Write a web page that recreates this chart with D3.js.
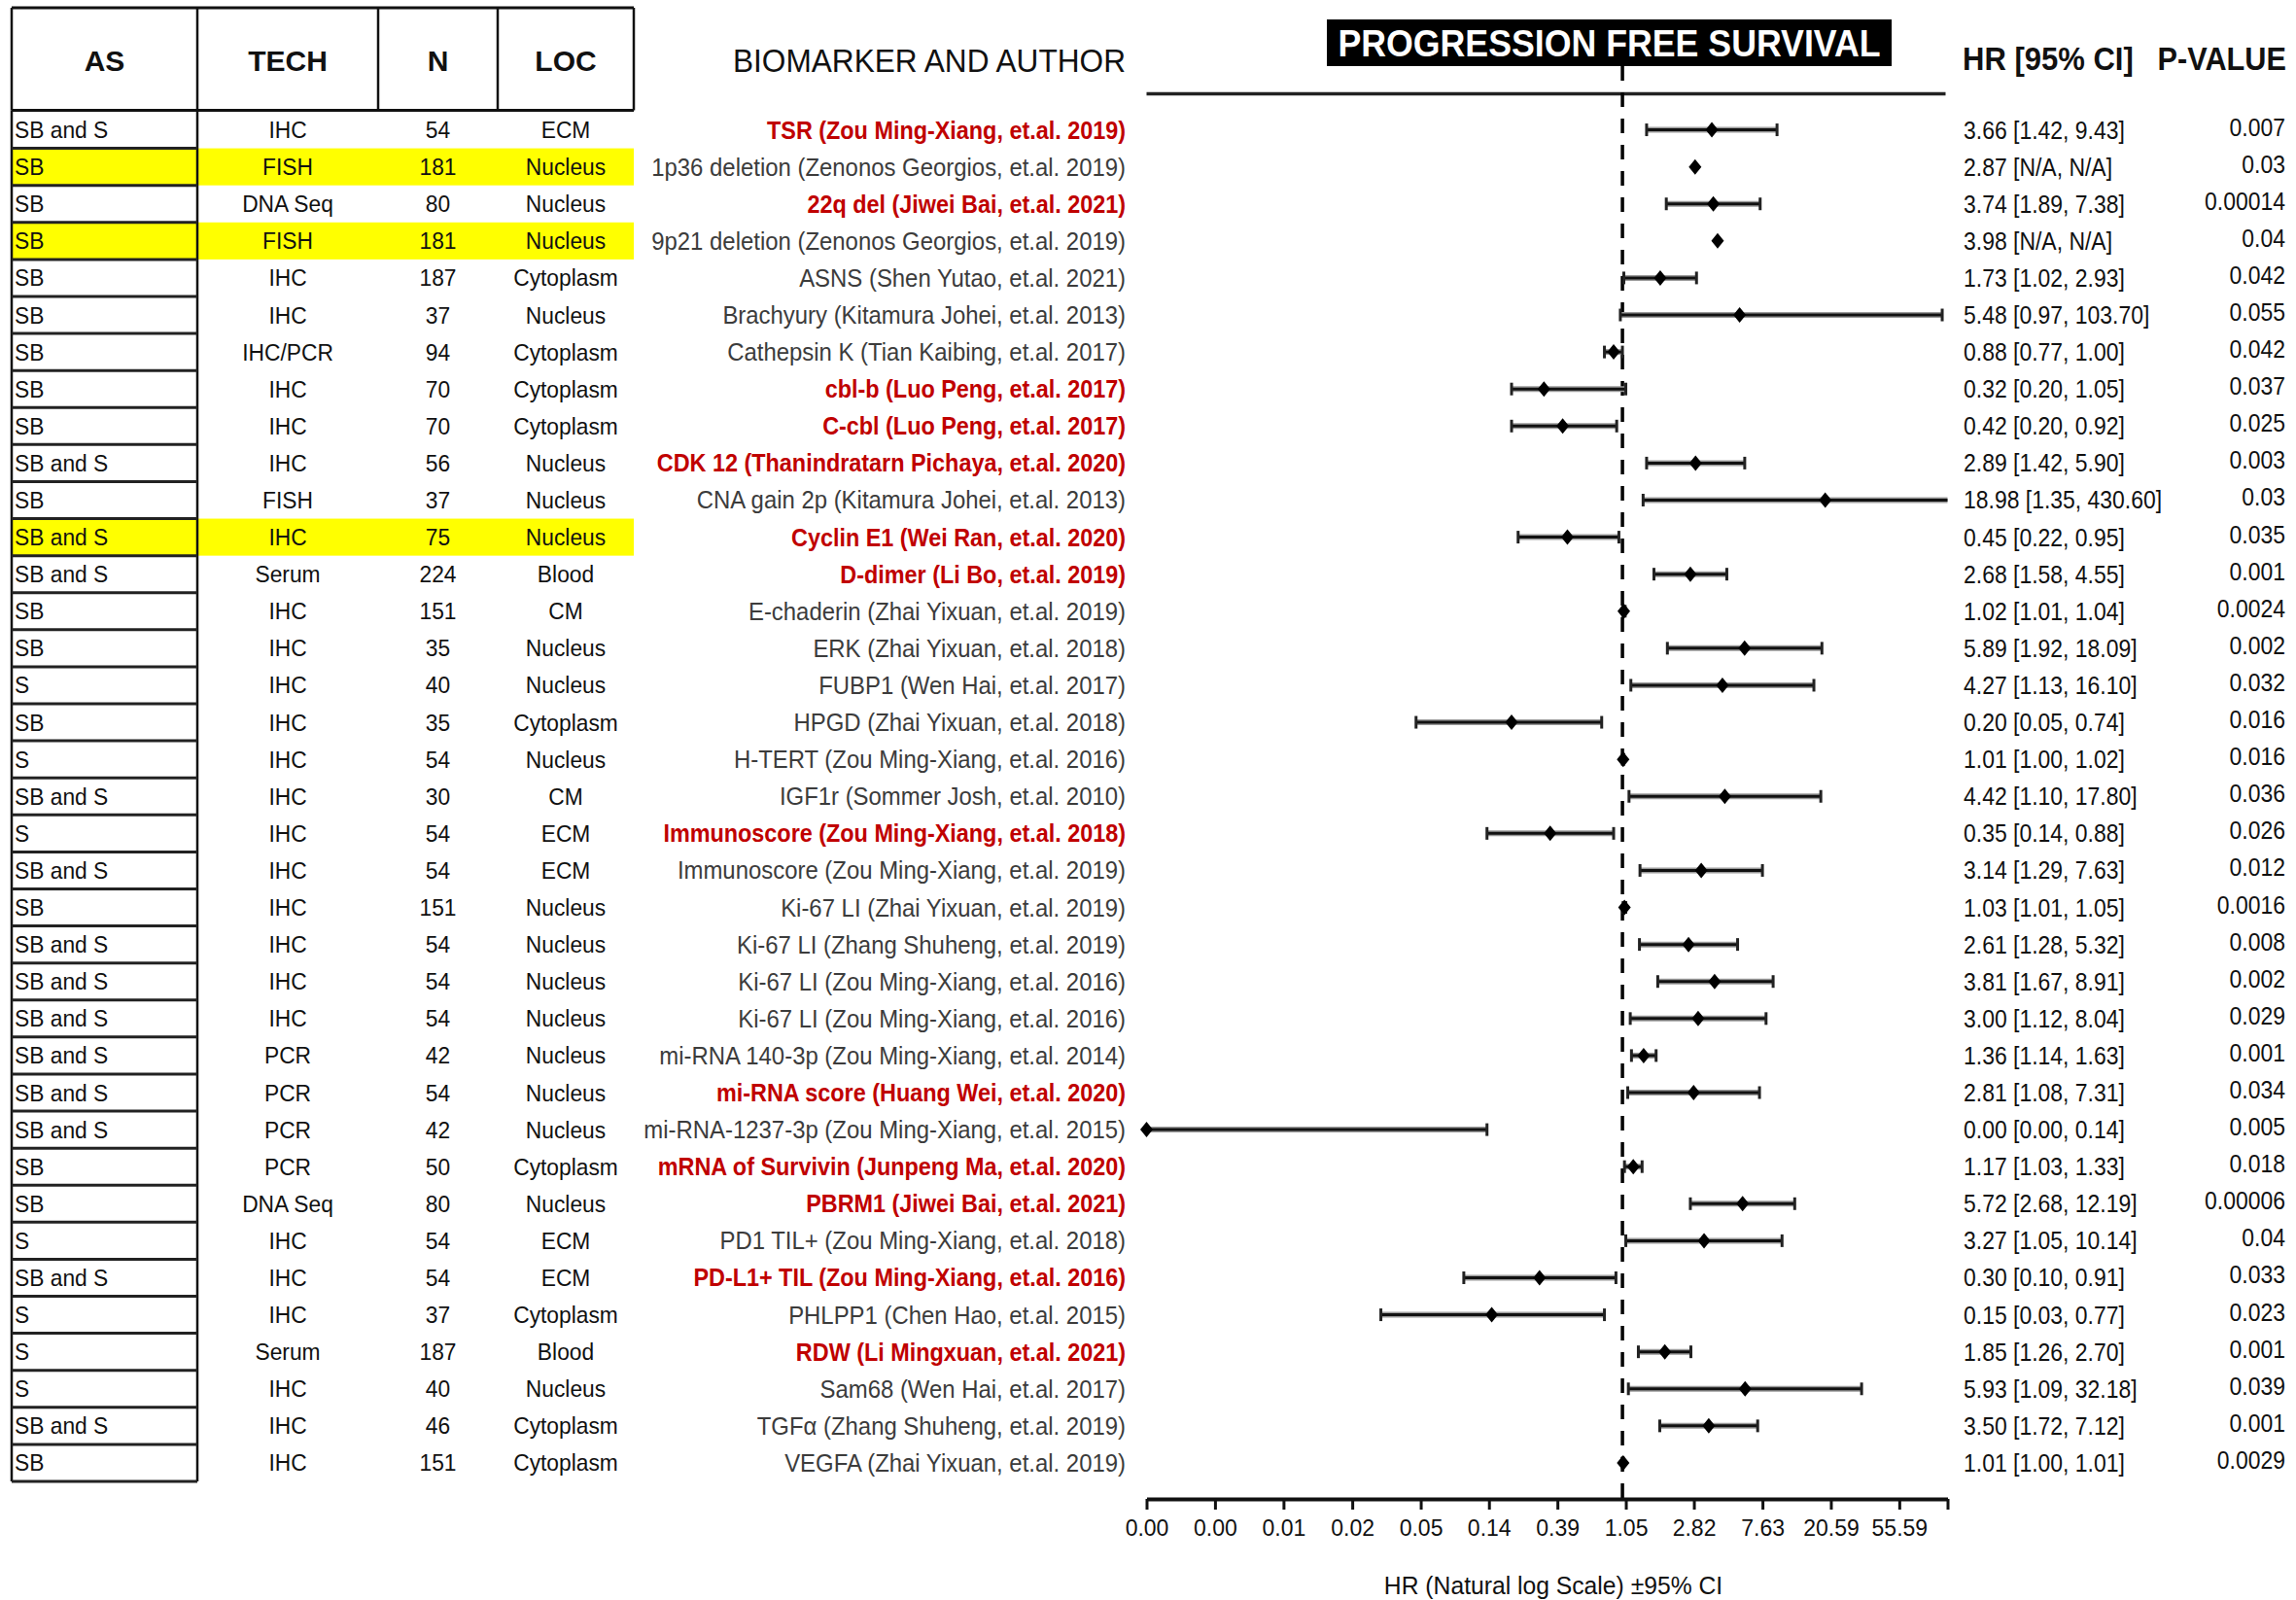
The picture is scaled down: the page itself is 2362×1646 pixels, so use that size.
<!DOCTYPE html>
<html>
<head>
<meta charset="utf-8">
<script src="https://cdn.jsdelivr.net/npm/d3@7"></script>
<style>
  html, body { margin: 0; padding: 0; background: #fff; }
  svg { display: block; }
</style>
</head>
<body>
<svg id="chart" width="2362" height="1646"></svg>
<script>
// ---------------- DATA ----------------
const asCol = ["SB and S","SB","SB","SB","SB","SB","SB","SB","SB","SB and S","SB","SB and S","SB and S","SB","SB","S","SB","S","SB and S","S","SB and S","SB","SB and S","SB and S","SB and S","SB and S","SB and S","SB and S","SB","SB","S","SB and S","S","S","S","SB and S","SB"];
const techCol = ["IHC","FISH","DNA Seq","FISH","IHC","IHC","IHC/PCR","IHC","IHC","IHC","FISH","IHC","Serum","IHC","IHC","IHC","IHC","IHC","IHC","IHC","IHC","IHC","IHC","IHC","IHC","PCR","PCR","PCR","PCR","DNA Seq","IHC","IHC","IHC","Serum","IHC","IHC","IHC"];
const nCol = [54,181,80,181,187,37,94,70,70,56,37,75,224,151,35,40,35,54,30,54,54,151,54,54,54,42,54,42,50,80,54,54,37,187,40,46,151];
const locCol = ["ECM","Nucleus","Nucleus","Nucleus","Cytoplasm","Nucleus","Cytoplasm","Cytoplasm","Cytoplasm","Nucleus","Nucleus","Nucleus","Blood","CM","Nucleus","Nucleus","Cytoplasm","Nucleus","CM","ECM","ECM","Nucleus","Nucleus","Nucleus","Nucleus","Nucleus","Nucleus","Nucleus","Cytoplasm","Nucleus","ECM","ECM","Cytoplasm","Blood","Nucleus","Cytoplasm","Cytoplasm"];
const biomarkers = [
  "TSR (Zou Ming-Xiang, et.al. 2019)",
  "1p36 deletion (Zenonos Georgios, et.al. 2019)",
  "22q del (Jiwei Bai, et.al. 2021)",
  "9p21 deletion (Zenonos Georgios, et.al. 2019)",
  "ASNS (Shen Yutao, et.al. 2021)",
  "Brachyury (Kitamura Johei, et.al. 2013)",
  "Cathepsin K (Tian Kaibing, et.al. 2017)",
  "cbl-b (Luo Peng, et.al. 2017)",
  "C-cbl (Luo Peng, et.al. 2017)",
  "CDK 12 (Thanindratarn Pichaya, et.al. 2020)",
  "CNA gain 2p (Kitamura Johei, et.al. 2013)",
  "Cyclin E1 (Wei Ran, et.al. 2020)",
  "D-dimer (Li Bo, et.al. 2019)",
  "E-chaderin (Zhai Yixuan, et.al. 2019)",
  "ERK (Zhai Yixuan, et.al. 2018)",
  "FUBP1 (Wen Hai, et.al. 2017)",
  "HPGD (Zhai Yixuan, et.al. 2018)",
  "H-TERT (Zou Ming-Xiang, et.al. 2016)",
  "IGF1r (Sommer Josh, et.al. 2010)",
  "Immunoscore (Zou Ming-Xiang, et.al. 2018)",
  "Immunoscore (Zou Ming-Xiang, et.al. 2019)",
  "Ki-67 LI (Zhai Yixuan, et.al. 2019)",
  "Ki-67 LI (Zhang Shuheng, et.al. 2019)",
  "Ki-67 LI (Zou Ming-Xiang, et.al. 2016)",
  "Ki-67 LI (Zou Ming-Xiang, et.al. 2016)",
  "mi-RNA 140-3p (Zou Ming-Xiang, et.al. 2014)",
  "mi-RNA score (Huang Wei, et.al. 2020)",
  "mi-RNA-1237-3p (Zou Ming-Xiang, et.al. 2015)",
  "mRNA of Survivin (Junpeng Ma, et.al. 2020)",
  "PBRM1 (Jiwei Bai, et.al. 2021)",
  "PD1 TIL+ (Zou Ming-Xiang, et.al. 2018)",
  "PD-L1+ TIL (Zou Ming-Xiang, et.al. 2016)",
  "PHLPP1 (Chen Hao, et.al. 2015)",
  "RDW (Li Mingxuan, et.al. 2021)",
  "Sam68 (Wen Hai, et.al. 2017)",
  "TGFα (Zhang Shuheng, et.al. 2019)",
  "VEGFA (Zhai Yixuan, et.al. 2019)"
];
// 1 = highlighted (red bold) biomarker label
const redLabel = [1,0,1,0,0,0,0,1,1,1,0,1,1,0,0,0,0,0,0,1,0,0,0,0,0,0,1,0,1,1,0,1,0,1,0,0,0];
// 1 = yellow highlighted table row
const yellowRow = [0,1,0,1,0,0,0,0,0,0,0,1,0,0,0,0,0,0,0,0,0,0,0,0,0,0,0,0,0,0,0,0,0,0,0,0,0];
const hrVals = [3.66,2.87,3.74,3.98,1.73,5.48,0.88,0.32,0.42,2.89,18.98,0.45,2.68,1.02,5.89,4.27,0.20,1.01,4.42,0.35,3.14,1.03,2.61,3.81,3.00,1.36,2.81,0.001,1.17,5.72,3.27,0.30,0.15,1.85,5.93,3.50,1.01];
const ciLow  = [1.42,null,1.89,null,1.02,0.97,0.77,0.20,0.20,1.42,1.35,0.22,1.58,1.01,1.92,1.13,0.05,1.00,1.10,0.14,1.29,1.01,1.28,1.67,1.12,1.14,1.08,0.0005,1.03,2.68,1.05,0.10,0.03,1.26,1.09,1.72,1.00];
const ciHigh = [9.43,null,7.38,null,2.93,103.70,1.00,1.05,0.92,5.90,430.60,0.95,4.55,1.04,18.09,16.10,0.74,1.02,17.80,0.88,7.63,1.05,5.32,8.91,8.04,1.63,7.31,0.14,1.33,12.19,10.14,0.91,0.77,2.70,32.18,7.12,1.01];
const pValues = ["0.007","0.03","0.00014","0.04","0.042","0.055","0.042","0.037","0.025","0.003","0.03","0.035","0.001","0.0024","0.002","0.032","0.016","0.016","0.036","0.026","0.012","0.0016","0.008","0.002","0.029","0.001","0.034","0.005","0.018","0.00006","0.04","0.033","0.023","0.001","0.039","0.001","0.0029"];
const tickValues = [0.001,0.0027,0.0073,0.0198,0.0535,0.144,0.389,1.05,2.82,7.63,20.59,55.59];
const tickLabels = ["0.00","0.00","0.01","0.02","0.05","0.14","0.39","1.05","2.82","7.63","20.59","55.59"];
const tableHeaders = ["AS","TECH","N","LOC"];
const chartTitle = "PROGRESSION FREE SURVIVAL";
const axisTitle = "HR (Natural log Scale) ±95% CI";

// ---------------- LAYOUT ----------------
const FONT = "'Liberation Sans', Arial, Helvetica, sans-serif";
const svg = d3.select("#chart");
const n = biomarkers.length;
const rows = d3.range(n);

const y = d3.scaleBand().domain(rows).range([114.5, 1524]).padding(0);
const yc = i => y(i) + y.bandwidth() / 2;

const colEdges = [12, 203, 389, 512, 652];
const headerTop = 8, headerBottom = 113.5;

const x = d3.scaleLog().domain([0.001, 112]).range([1179.5, 2003.5]).clamp(true);
const fmt = d3.format(".2f");

function txt(g, str, xx, yy, o = {}) {
  const sx = o.sx || 1;
  return g.append("text")
    .attr("transform", `translate(${xx},${yy}) scale(${sx},1)`)
    .attr("text-anchor", o.anchor || "start")
    .attr("font-family", o.family || FONT)
    .attr("font-size", o.size || 23)
    .attr("font-weight", o.weight || "normal")
    .attr("fill", o.fill || "#111")
    .text(str);
}

// ---------------- TABLE ----------------
const tbl = svg.append("g");
// yellow highlighted rows
tbl.selectAll("rect.hl").data(rows.filter(i => yellowRow[i]))
  .join("rect").attr("class", "hl")
  .attr("x", colEdges[0]).attr("width", colEdges[4] - colEdges[0])
  .attr("y", i => y(i)).attr("height", y.bandwidth())
  .attr("fill", "#ffff00");

// header box
[headerTop, headerBottom].forEach(yy => {
  tbl.append("line").attr("x1", colEdges[0]).attr("x2", colEdges[4])
    .attr("y1", yy).attr("y2", yy).attr("stroke", "#111").attr("stroke-width", 3);
});
colEdges.forEach(xx => {
  tbl.append("line").attr("x1", xx).attr("x2", xx)
    .attr("y1", headerTop).attr("y2", headerBottom).attr("stroke", "#111").attr("stroke-width", 2.5);
});
// body verticals for first column
[colEdges[0], colEdges[1]].forEach(xx => {
  tbl.append("line").attr("x1", xx).attr("x2", xx)
    .attr("y1", headerBottom).attr("y2", y.range()[1]).attr("stroke", "#111").attr("stroke-width", 2.5);
});
// row separators for first column
tbl.selectAll("line.sep").data(d3.range(1, n + 1)).join("line").attr("class", "sep")
  .attr("x1", colEdges[0]).attr("x2", colEdges[1])
  .attr("y1", i => y.range()[0] + i * y.step()).attr("y2", i => y.range()[0] + i * y.step())
  .attr("stroke", "#222").attr("stroke-width", 3);

// header text
tableHeaders.forEach((h, k) => {
  txt(tbl, h, (colEdges[k] + colEdges[k + 1]) / 2, 73, {anchor: "middle", size: 30, weight: "bold"});
});

// body text
rows.forEach(i => {
  const yy = yc(i) + 8.5;
  txt(tbl, asCol[i], colEdges[0] + 3, yy, {size: 24, sx: 0.95});
  txt(tbl, techCol[i], (colEdges[1] + colEdges[2]) / 2, yy, {anchor: "middle", size: 24, sx: 0.95});
  txt(tbl, String(nCol[i]), (colEdges[2] + colEdges[3]) / 2, yy, {anchor: "middle", size: 24, sx: 0.95});
  txt(tbl, locCol[i], (colEdges[3] + colEdges[4]) / 2, yy, {anchor: "middle", size: 24, sx: 0.95});
});

// ---------------- BIOMARKER LABELS ----------------
const lab = svg.append("g");
txt(lab, "BIOMARKER AND AUTHOR", 1158, 74, {anchor: "end", size: 34, sx: 0.93, fill: "#111"});
rows.forEach(i => {
  if (redLabel[i]) {
    txt(lab, biomarkers[i], 1158, yc(i) + 9, {anchor: "end", size: 26, weight: "bold", sx: 0.9, fill: "#c00000"});
  } else {
    txt(lab, biomarkers[i], 1158, yc(i) + 9, {anchor: "end", size: 26, sx: 0.92, fill: "#3c3c3c"});
  }
});

// ---------------- FOREST PLOT ----------------
const plot = svg.append("g");
// title box
const tW = 581, tH = 48, tCx = 1655.5, tTop = 20;
plot.append("rect").attr("x", tCx - tW / 2).attr("y", tTop).attr("width", tW).attr("height", tH).attr("fill", "#000");
// top rule
plot.append("line").attr("x1", x.range()[0]).attr("x2", x.range()[1] - 2)
  .attr("y1", 96.5).attr("y2", 96.5).attr("stroke", "#222").attr("stroke-width", 3.5);
// reference dashed line at HR = 1
const axisY = 1542;
plot.append("line").attr("x1", x(1)).attr("x2", x(1))
  .attr("y1", tTop + tH).attr("y2", axisY)
  .attr("stroke", "#000").attr("stroke-width", 3.5).attr("stroke-dasharray", "15,12");
txt(plot, chartTitle, tCx, 58, {anchor: "middle", size: 38, weight: "bold", sx: 0.94, fill: "#fff"});

// whiskers
const [dMin, dMax] = x.domain();
const ciRows = rows.filter(i => ciLow[i] != null && ciHigh[i] != null);
const capH = 13;
plot.selectAll("line.ciHalo").data(ciRows).join("line").attr("class", "ciHalo")
  .attr("x1", i => x(ciLow[i])).attr("x2", i => x(ciHigh[i]))
  .attr("y1", yc).attr("y2", yc).attr("stroke", "#9a9a9a").attr("stroke-width", 6);
plot.selectAll("line.ci").data(ciRows).join("line").attr("class", "ci")
  .attr("x1", i => x(ciLow[i])).attr("x2", i => x(ciHigh[i]))
  .attr("y1", yc).attr("y2", yc).attr("stroke", "#111").attr("stroke-width", 3);
plot.selectAll("line.capL").data(ciRows.filter(i => ciLow[i] >= dMin)).join("line").attr("class", "capL")
  .attr("x1", i => x(ciLow[i])).attr("x2", i => x(ciLow[i]))
  .attr("y1", i => yc(i) - capH / 2).attr("y2", i => yc(i) + capH / 2)
  .attr("stroke", "#222").attr("stroke-width", 3);
plot.selectAll("line.capR").data(ciRows.filter(i => ciHigh[i] <= dMax)).join("line").attr("class", "capR")
  .attr("x1", i => x(ciHigh[i])).attr("x2", i => x(ciHigh[i]))
  .attr("y1", i => yc(i) - capH / 2).attr("y2", i => yc(i) + capH / 2)
  .attr("stroke", "#222").attr("stroke-width", 3);
// diamonds
const dw = 6.5, dh = 8;
plot.selectAll("path.pt").data(rows).join("path").attr("class", "pt")
  .attr("d", i => {
    const cx = x(hrVals[i]), cy = yc(i);
    return `M${cx},${cy - dh}L${cx + dw},${cy}L${cx},${cy + dh}L${cx - dw},${cy}Z`;
  })
  .attr("fill", "#000");

// axis
const axis = d3.axisBottom(x)
  .tickValues([...tickValues, dMax])
  .tickFormat((d, k) => tickLabels[k] !== undefined ? tickLabels[k] : "")
  .tickSize(11).tickSizeOuter(0).tickPadding(11);
const ax = plot.append("g").attr("transform", `translate(0,${axisY})`).call(axis);
ax.select(".domain").attr("stroke", "#111").attr("stroke-width", 4);
ax.selectAll(".tick line").attr("stroke", "#111").attr("stroke-width", 3);
ax.selectAll(".tick text").attr("font-family", FONT).attr("font-size", 23).attr("fill", "#111");
txt(plot, axisTitle, 1598, 1640, {anchor: "middle", size: 26, sx: 0.95});

// ---------------- HR / P-VALUE COLUMNS ----------------
const right = svg.append("g");
txt(right, "HR [95% CI]", 2019, 72, {size: 33, weight: "bold", sx: 0.94});
txt(right, "P-VALUE", 2352, 72, {anchor: "end", size: 33, weight: "bold", sx: 0.93});
rows.forEach(i => {
  const lo = ciLow[i] == null ? "N/A" : fmt(ciLow[i]);
  const hi = ciHigh[i] == null ? "N/A" : fmt(ciHigh[i]);
  txt(right, `${fmt(hrVals[i])} [${lo}, ${hi}]`, 2020, yc(i) + 9, {size: 25.5, sx: 0.9});
  txt(right, pValues[i], 2351, yc(i) + 6, {anchor: "end", size: 25.5, sx: 0.9});
});
</script>
</body>
</html>
